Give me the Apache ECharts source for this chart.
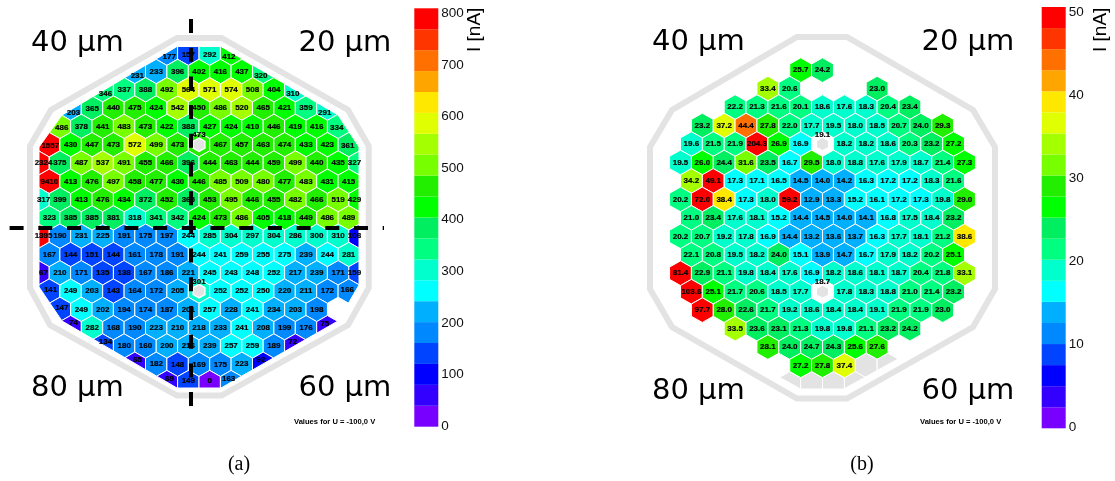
<!DOCTYPE html>
<html>
<head>
<meta charset="utf-8">
<style>html,body{margin:0;padding:0;background:#fff}#c{width:1115px;height:481px}</style>
<script src="https://cdn.jsdelivr.net/npm/echarts@6/dist/echarts.min.js"></script>
</head>
<body>
<div id="c"></div>
<script>
// ---------- data: panel (a), currents in nA, one array per pixel row ----------
const aRowM5 = [177,157,292,412];
const aRowM4 = [231,233,396,402,416,437,320];
const aRowM3 = [346,337,388,492,564,571,574,508,404,310];
const aRowM2 = [203,365,440,475,424,542,450,486,520,465,421,359,291];
const aRowM1 = [486,378,441,483,473,422,388,427,424,410,446,419,416,334];
const aRow0  = [1557,430,447,473,572,499,473,473,467,457,463,474,433,423,361];
const aRow1  = [2324,375,487,537,491,455,466,396,444,463,444,459,499,440,435,327];
const aRow2  = [9410,413,476,497,458,477,430,446,485,509,480,477,483,431,415];
const aRow3  = [317,399,413,476,434,372,452,365,453,495,446,455,482,466,519,429];
const aRow4  = [323,385,385,381,318,341,342,424,473,486,405,418,449,486,489];
const aRow5  = [1395,190,231,225,191,175,197,244,285,304,297,304,286,300,310,108];
const aRow6  = [167,144,151,144,161,178,191,244,241,259,255,275,239,244,281];
const aRow7  = [67,210,171,135,138,167,186,221,245,243,248,252,217,239,171,159];
const aRow8  = [141,249,203,143,164,172,205,301,252,252,250,220,211,172,166];
const aRow9  = [147,249,202,194,174,187,201,257,228,241,234,203,198];
const aRow10 = [74,282,168,190,223,210,218,233,241,208,199,176,75];
const aRow11 = [134,180,160,200,216,239,257,259,189,72];
const aRow12 = [65,182,148,169,175,223,92];
const aRow13 = [69,149,0,163];
const aRows = [aRowM5,aRowM4,aRowM3,aRowM2,aRowM1,aRow0,aRow1,aRow2,aRow3,aRow4,aRow5,aRow6,aRow7,aRow8,aRow9,aRow10,aRow11,aRow12,aRow13];
const aRowIds = [-5,-4,-3,-2,-1,0,1,2,3,4,5,6,7,8,9,10,11,12,13];
const aFirstCol = [-2,-3,-5,-6,-7,-7,-8,-7,-8,-7,-8,-7,-8,-7,-7,-6,-5,-3,-2];

// ---------- data: panel (b); null = no pixel, NA = not measured (grey) ----------
const NA = 'NA';
const bRowM4 = [25.7,24.2];
const bRowM3 = [33.4,20.6,null,null,null,23.0];
const bRowM2 = [22.2,21.3,21.6,20.1,18.6,17.6,18.3,20.4,23.4];
const bRowM1 = [23.2,37.2,44.4,27.8,22.0,17.7,19.5,18.0,18.5,20.7,24.0,29.3];
const bRow0  = [19.6,21.5,21.9,204.3,26.9,16.9,19.1,18.2,18.2,18.6,20.3,23.2,27.2];
const bRow1  = [19.5,26.0,24.4,31.6,23.5,16.7,29.5,18.0,18.8,17.6,17.9,18.7,21.4,27.3];
const bRow2  = [34.2,49.1,17.3,17.1,16.5,14.5,14.0,14.2,16.3,17.2,17.2,18.3,21.6];
const bRow3  = [20.2,72.0,38.4,17.3,18.0,59.2,12.9,13.3,15.2,16.1,17.2,17.3,19.8,29.0];
const bRow4  = [21.0,23.4,17.6,18.1,15.2,14.4,14.5,14.0,14.1,16.8,17.5,18.4,23.2];
const bRow5  = [20.2,20.7,19.2,17.8,16.9,14.4,13.2,13.6,13.7,16.3,17.7,18.1,21.2,38.6];
const bRow6  = [22.1,20.8,19.5,18.2,24.0,15.1,13.9,14.7,16.7,17.9,18.2,20.2,25.1];
const bRow7  = [81.4,22.9,21.1,19.8,18.4,17.6,16.9,18.2,18.6,18.1,18.7,20.4,21.8,33.1];
const bRow8  = [103.6,25.1,21.7,20.6,18.5,17.7,18.7,17.8,18.3,18.8,21.0,21.4,23.2];
const bRow9  = [97.7,28.0,22.6,21.7,19.2,18.6,18.4,18.4,19.1,21.9,21.9,23.0];
const bRow10 = [33.5,23.6,23.1,21.3,19.8,19.8,21.1,23.2,24.2];
const bRow11 = [28.1,24.0,24.7,24.3,25.6,27.6];
const bRow12 = [27.2,27.8,37.4,NA,NA];
const bRow13 = [NA,NA,NA,NA];
const bRows = [bRowM4,bRowM3,bRowM2,bRowM1,bRow0,bRow1,bRow2,bRow3,bRow4,bRow5,bRow6,bRow7,bRow8,bRow9,bRow10,bRow11,bRow12,bRow13];
const bRowIds = [-4,-3,-2,-1,0,1,2,3,4,5,6,7,8,9,10,11,12,13];
const bFirstCol = [-1,-3,-4,-6,-6,-7,-6,-7,-6,-7,-6,-7,-6,-6,-4,-3,-1,-2];

// ---------- colour scale and axis ticks ----------
const palette = ['#7700ff','#3300ff','#0000ff','#0044ff','#0088ff','#00b0ff','#00ffff','#00ffcc','#00ff80','#00ee60',
                 '#00ff00','#22ee00','#77ff00','#a4ff00','#e0ff00','#ffe800','#ffa500','#ff7000','#ff3500','#ff0000'];
const aScaleMax = 800, aScaleTick = 100;
const bScaleMax = 50,  bScaleTick = 10;
const unitLabel = 'I [nA]';
const voltageNote = 'Values for U = -100,0 V';
const holeRows = [0, 8];   // rows holding the bond-hole pixel at column 0

const GREY = '#e3e3e3';
const FONT = '"Liberation Sans", Arial, sans-serif';

// ---------- layout ----------
const clipA = [[177,46.5],[221,46.5],[338,115],[359,147],[359,285],[338,321],[221,388],[177,388],[62,321],[39,287],[39,147],[62,115]];
const clipB = [[800,46],[845,46],[965,116],[986,150],[986,285],[965,322],[898,359],[844,389],[800,389],[779,377],[680,322],[659,285],[659,150],[680,116]];
const frameA = [[177,38],[221.5,38],[348,110],[368.7,146],[368.7,288],[348,325],[221.5,395.5],[177,395.5],[50,325],[30,288],[30,146],[51,110]];
const frameB = [[797,37],[847,37],[973,110],[995,147],[995,289],[973,327],[847,398.5],[797,398.5],[672,327],[650,289],[650,147],[672,110]];

function clipPoly(poly, clip) {
  let out = poly;
  for (let i = 0; i < clip.length; i++) {
    const a = clip[i], b = clip[(i + 1) % clip.length];
    const inside = p => (b[0]-a[0])*(p[1]-a[1]) - (b[1]-a[1])*(p[0]-a[0]) >= 0;
    const cross = (p, q) => {
      const d1 = (b[0]-a[0])*(p[1]-a[1]) - (b[1]-a[1])*(p[0]-a[0]);
      const d2 = (b[0]-a[0])*(q[1]-a[1]) - (b[1]-a[1])*(q[0]-a[0]);
      const t = d1 / (d1 - d2);
      return [p[0]+t*(q[0]-p[0]), p[1]+t*(q[1]-p[1])];
    };
    const res = [];
    for (let j = 0; j < out.length; j++) {
      const p = out[j], q = out[(j + 1) % out.length];
      const ip = inside(p), iq = inside(q);
      if (ip) res.push(p);
      if (ip !== iq) res.push(cross(p, q));
    }
    out = res;
    if (!out.length) break;
  }
  return out;
}
function centroid(poly) {
  let A = 0, cx = 0, cy = 0;
  for (let i = 0; i < poly.length; i++) {
    const p = poly[i], q = poly[(i + 1) % poly.length];
    const f = p[0]*q[1] - q[0]*p[1];
    A += f; cx += (p[0]+q[0])*f; cy += (p[1]+q[1])*f;
  }
  return A === 0 ? poly[0] : [cx/(3*A), cy/(3*A)];
}
function hexPts(c, a, s) {
  return [[c[0],c[1]-s],[c[0]+a,c[1]-s/2],[c[0]+a,c[1]+s/2],[c[0],c[1]+s],[c[0]-a,c[1]+s/2],[c[0]-a,c[1]-s/2]];
}
function bandColor(v, max) {
  const i = Math.min(palette.length - 1, Math.floor(v / (max / palette.length)));
  return palette[Math.max(0, i)];
}
function buildCells(rows, ids, first) {
  const cells = [];
  rows.forEach((row, k) => {
    const r = ids[k], odd = Math.abs(r) % 2 === 1;
    row.forEach((v, i) => {
      if (v === null) return;
      const col = first[k] + i + (odd ? 0.5 : 0);
      cells.push({ col, r, v, hole: col === 0 && holeRows.indexOf(r) >= 0 });
    });
  });
  return cells;
}
function hexSeries(cells, xi, max, clip, decimals, ringScale, holeWhite) {
  return {
    type: 'custom', xAxisIndex: xi, yAxisIndex: xi, clip: false, silent: true,
    data: cells.map(c => [c.col, c.r]),
    encode: { x: 0, y: 1 },
    renderItem(params, api) {
      const cell = cells[params.dataIndex];
      const c = api.coord([cell.col, cell.r]);
      const a = api.size([1, 0])[0] / 2, s = api.size([0, 1])[1] * 2 / 3;
      const poly = clipPoly(hexPts(c, a, s), clip);
      if (poly.length < 3) return null;
      const na = cell.v === NA;
      const kids = [{
        type: 'polygon', z2: 1, shape: { points: poly },
        style: { fill: na ? GREY : (cell.hole && holeWhite ? '#fff' : bandColor(cell.v, max)), stroke: '#fff', lineWidth: 1 }
      }];
      if (cell.hole) {
        kids.push({ type: 'polygon', z2: 2, shape: { points: hexPts(c, a * ringScale, s * ringScale) }, style: { fill: '#fff' } });
        kids.push({ type: 'polygon', z2: 3, shape: { points: hexPts(c, a * 0.5, s * 0.48) }, style: { fill: GREY } });
      }
      if (!na) {
        const m = cell.hole ? [c[0], c[1] - 9.6] : centroid(poly);
        kids.push({
          type: 'text', z2: 10,
          style: { x: m[0], y: m[1], text: cell.v.toFixed(decimals), fill: '#000', stroke: '#000', lineWidth: 0.2,
                   align: 'center', verticalAlign: 'middle', font: 'bold 8px ' + FONT }
        });
      }
      return { type: 'group', children: kids };
    }
  };
}
function barSeries(idx, max) {
  const step = max / palette.length;
  return {
    type: 'custom', xAxisIndex: idx, yAxisIndex: idx, silent: true, clip: false,
    data: palette.map((_, i) => [i * step]),
    encode: { y: 0 },
    renderItem(params, api) {
      const lo = api.value(0);
      const p0 = api.coord([0, lo]), p1 = api.coord([1, lo + step]);
      return { type: 'rect', shape: { x: p0[0], y: p1[1], width: p1[0]-p0[0], height: p0[1]-p1[1] },
               style: { fill: palette[params.dataIndex] } };
    }
  };
}
const hidden = { show: false };
function valueX(min, max, gridIndex) { return { type: 'value', gridIndex, min, max, show: false }; }
function rowY(min, max, gridIndex) { return { type: 'value', gridIndex, min, max, inverse: true, show: false }; }
function barY(max, gridIndex) { return { type: 'value', gridIndex, min: 0, max, show: false }; }
function tickY(max, interval, gridIndex) {
  return { type: 'value', gridIndex, min: 0, max, interval, position: 'right',
    axisLine: hidden, axisTick: hidden, splitLine: hidden,
    axisLabel: { show: true, margin: 3, color: '#111', fontFamily: FONT, fontSize: 13.5 } };
}
function txt(text, x, y, font, align, extra) {
  return Object.assign({ type: 'text', x, y, z: 20,
    style: { text, fill: '#000', font, align: align || 'left', verticalAlign: 'middle' } }, extra || {});
}
const umFont = '29px "DejaVu Sans", sans-serif';
const noteFont = 'bold 7.6px ' + FONT;
const capFont = '20px "Liberation Serif", serif';
const lineStyle = { stroke: '#000', lineWidth: 4, lineDash: [14, 14.7] };

const chart = echarts.init(document.getElementById('c'), null, { renderer: 'canvas' });
chart.setOption({
  animation: false,
  backgroundColor: '#fff',
  grid: [
    { left: 199 - 21.4*9, width: 21.4*18, top: 144.7 - 18.3*7, height: 18.3*22 },
    { left: 822.5 - 21.85*9, width: 21.85*18, top: 144 - 18.46*7, height: 18.46*22 },
    { left: 414.3, width: 24, top: 8.3, height: 418.4 },
    { left: 1041.7, width: 24, top: 7, height: 421.3 },
    { left: 414.3, width: 24, top: 13.3, height: 412.8 },
    { left: 1041.7, width: 24, top: 12, height: 415.2 }
  ],
  xAxis: [valueX(-9,9,0), valueX(-9,9,1), valueX(0,1,2), valueX(0,1,3), valueX(0,1,4), valueX(0,1,5)],
  yAxis: [rowY(-7,15,0), rowY(-7,15,1), barY(aScaleMax,2), barY(bScaleMax,3),
          tickY(aScaleMax,aScaleTick,4), tickY(bScaleMax,bScaleTick,5)],
  series: [
    hexSeries(buildCells(aRows,aRowIds,aFirstCol), 0, aScaleMax, clipA, 0, 0.62, false),
    hexSeries(buildCells(bRows,bRowIds,bFirstCol), 1, bScaleMax, clipB, 1, 0.72, true),
    barSeries(2, aScaleMax),
    barSeries(3, bScaleMax)
  ],
  graphic: [
    { type: 'polygon', z: 0, shape: { points: frameA }, style: { fill: 'none', stroke: GREY, lineWidth: 6 } },
    { type: 'polygon', z: 0, shape: { points: frameB }, style: { fill: 'none', stroke: GREY, lineWidth: 6 } },
    { type: 'line', z: 15, shape: { x1: 191, y1: 19, x2: 191, y2: 406 }, style: lineStyle },
    { type: 'line', z: 15, shape: { x1: 9.6, y1: 228, x2: 384, y2: 228 }, style: lineStyle },
    txt('40 µm', 31, 43, umFont), txt('20 µm', 298.5, 43, umFont),
    txt('80 µm', 31, 388, umFont), txt('60 µm', 298.5, 388, umFont),
    txt('40 µm', 652, 42.5, umFont), txt('20 µm', 921.5, 42.5, umFont),
    txt('80 µm', 652, 391, umFont), txt('60 µm', 921.5, 391, umFont),
    txt(voltageNote, 294, 422, noteFont), txt(voltageNote, 920, 422, noteFont),
    txt('(a)', 239, 465, capFont, 'center'), txt('(b)', 862, 465, capFont, 'center'),
    { type: 'text', z: 20, x: 475, y: 52, rotation: Math.PI/2,
      style: { text: unitLabel, fill: '#000', font: '19px ' + FONT, align: 'left', verticalAlign: 'middle' } },
    { type: 'text', z: 20, x: 1100.5, y: 52, rotation: Math.PI/2,
      style: { text: unitLabel, fill: '#000', font: '19px ' + FONT, align: 'left', verticalAlign: 'middle' } }
  ]
});
</script>
</body>
</html>
